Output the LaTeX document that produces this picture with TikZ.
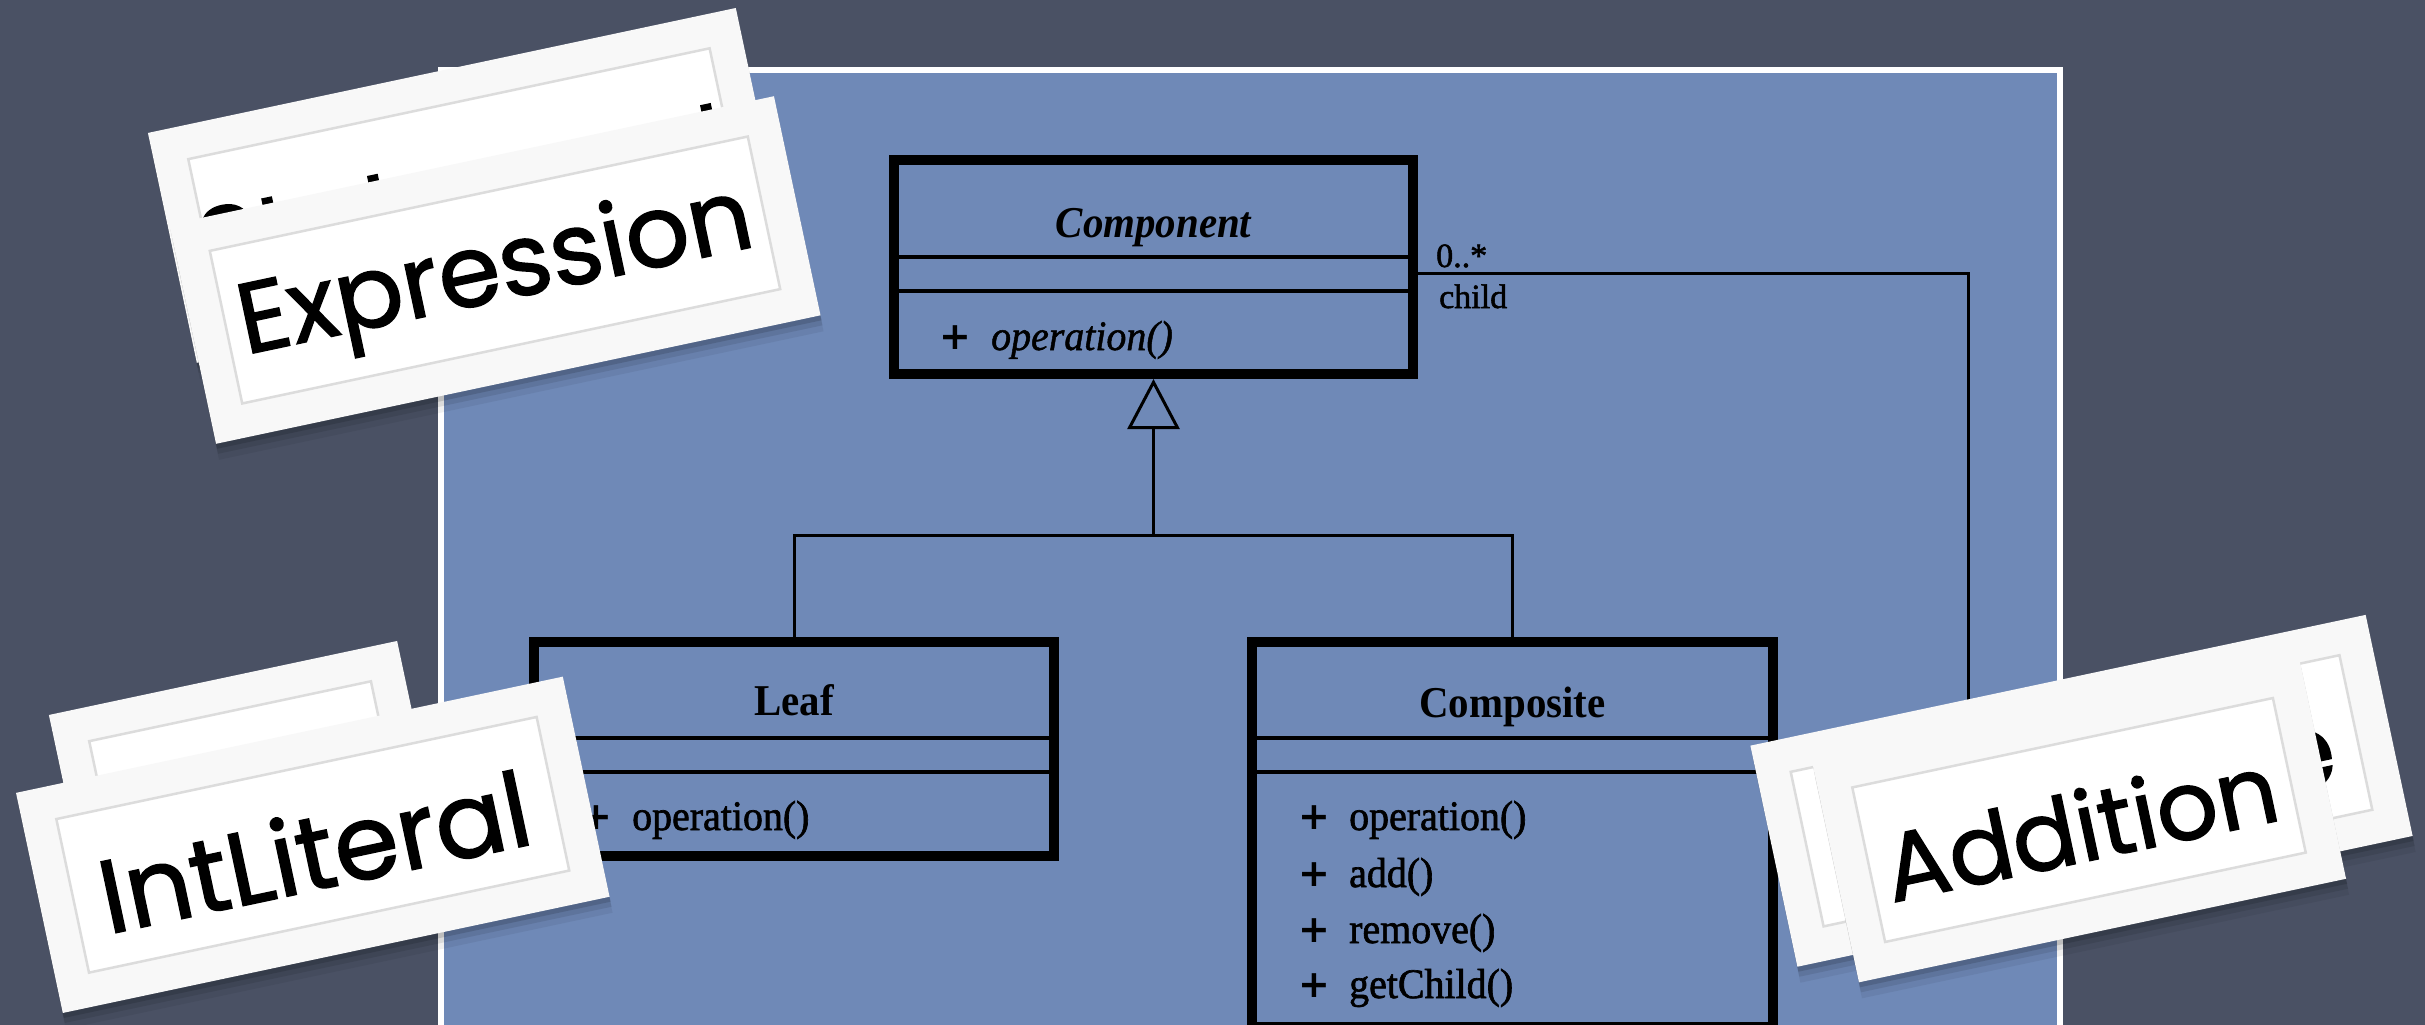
\documentclass[tikz,border=0pt]{standalone}
\usepackage{fontspec}
\setmainfont{Liberation Serif}
\newfontfamily\umltext[FakeBold=1.6]{Liberation Serif}
\newfontfamily\umlslant[FakeBold=1.2]{Liberation Serif}
\newfontfamily\plusfont{DejaVu Sans}
\newfontfamily\cardfont[FakeBold=1.4]{Poppins}
\usetikzlibrary{arrows.meta,calc,shadows}

\definecolor{board}{RGB}{74,81,100}
\definecolor{panelblue}{RGB}{111,137,183}
\definecolor{cardedge}{RGB}{248,248,248}
\definecolor{cardline}{RGB}{220,220,220}

\tikzset{
  classbox/.style={draw=black, line width=10pt, inner sep=0pt},
  sepline/.style={draw=black, line width=3.5pt},
  link/.style={draw=black, line width=3pt},
  classname/.style={font=\fontsize{44}{50}\selectfont\bfseries, xscale=0.93, inner sep=0pt, anchor=base},
  member/.style={font=\umltext\fontsize{42}{48}\selectfont, xscale=0.95, inner sep=0pt, anchor=base west},
  plussign/.style={font=\plusfont\bfseries\fontsize{38}{44}\selectfont, inner sep=0pt, anchor=base west},
  endlabel/.style={font=\umltext\fontsize{34}{40}\selectfont, inner sep=0pt, anchor=base west},
  cardback/.style={fill=cardedge, draw=none, rotate=12, inner sep=0pt,
    drop shadow={shadow xshift=3pt, shadow yshift=-16pt, opacity=0.06, fill=black},
    drop shadow={shadow xshift=2pt, shadow yshift=-10pt, opacity=0.09, fill=black},
    drop shadow={shadow xshift=1pt, shadow yshift=-5pt, opacity=0.13, fill=black}},
  cardface/.style={fill=white, draw=cardline, line width=2.5pt, rotate=12, inner sep=0pt},
  cardtext/.style={font=\cardfont\fontsize{104}{116}\selectfont, rotate=12, yshift=-6pt, inner sep=0pt},
}

\begin{document}
\begin{tikzpicture}[x=1pt, y=-1pt]
  % chalkboard and the blue sheet
  \useasboundingbox (0,0) rectangle (2425,1025);
  \fill[board] (0,0) rectangle (2425,1025);
  \draw[fill=panelblue, draw=white, line width=6pt] (441,70) rectangle (2060,1110);

  % class boxes
  \node[classbox, minimum width=519pt, minimum height=214pt] (comp) at (1153.5,267) {};
  \node[classbox, minimum width=520pt, minimum height=214pt] (leaf) at (794,749) {};
  \node[classbox, minimum width=521pt, minimum height=385pt] (compo) at (1512.5,834.5) {};

  % compartments
  \draw[sepline] (comp.west |- 0,257) -- (comp.east |- 0,257);
  \draw[sepline] (comp.west |- 0,291) -- (comp.east |- 0,291);
  \draw[sepline] (leaf.west |- 0,738) -- (leaf.east |- 0,738);
  \draw[sepline] (leaf.west |- 0,772) -- (leaf.east |- 0,772);
  \draw[sepline] (compo.west |- 0,738) -- (compo.east |- 0,738);
  \draw[sepline] (compo.west |- 0,772) -- (compo.east |- 0,772);

  % class names
  \node[classname, font=\fontsize{44}{50}\selectfont\bfseries\itshape] (compname) at (1153.5,237) {Component};
  \node[classname] (leafname) at (794,715) {Leaf};
  \node[classname] (componame) at (1512.5,717) {Composite};

  % operations
  \node[plussign] (cplus) at (939,349) {+};
  \node[member, font=\umlslant\fontsize{42}{48}\selectfont\itshape] (cop) at (991,350) {operation()};
  \node[plussign] (lplus) at (580,829) {+};
  \node[member] (lop) at (632,830) {operation()};
  \node[plussign] (kplus1) at (1298,829) {+};
  \node[member] (kop1) at (1349,830) {operation()};
  \node[plussign] (kplus2) at (1298,886) {+};
  \node[member] (kop2) at (1349,887) {add()};
  \node[plussign] (kplus3) at (1298,942) {+};
  \node[member] (kop3) at (1349,943) {remove()};
  \node[plussign] (kplus4) at (1298,997) {+};
  \node[member] (kop4) at (1349,998) {getChild()};

  % generalisation
  \coordinate (junction) at (1153.5,535);
  \draw[link] (leaf.north) |- (junction) -| (compo.north);
  \draw[link, -{Triangle[open, length=50pt, width=52pt, line width=3pt]}] (junction) -- (comp.south);

  % child association
  \coordinate (assocbend) at (1968,273);
  \coordinate (assocdown) at (1968,790);
  \draw[link] ($(comp.east)+(0,6)$) -- (assocbend) -- (assocdown) -- (compo.east |- assocdown);
  \node[endlabel] (mult) at (1436,267) {0..*};
  \node[endlabel] (role) at (1439,308) {child};

  % cards, top left
  \node[cardback, minimum width=601pt, minimum height=235pt] (stmtcard) at (466.3,185.4) {};
  \node[cardface, minimum width=533pt, minimum height=167pt] (stmtface) at (stmtcard.center) {};
  \node[cardtext] (stmttext) at (stmtcard.center) {Statement};
  \node[cardback, minimum width=618pt, minimum height=224pt] (exprcard) at (495,270) {};
  \node[cardface, minimum width=550pt, minimum height=156pt] (exprface) at (exprcard.center) {};
  \node[cardtext, font=\cardfont\fontsize{100}{112}\selectfont] (exprtext) at (exprcard.center) {Expression};

  % cards, bottom left
  \node[cardback, minimum width=356pt, minimum height=226pt] (backcard) at (246.5,788.5) {};
  \node[cardface, minimum width=288pt, minimum height=158pt] (backface) at (backcard.center) {};
  \node[cardback, minimum width=559pt, minimum height=225pt] (intcard) at (312.8,844.8) {};
  \node[cardface, minimum width=491pt, minimum height=157pt] (intface) at (intcard.center) {};
  \node[cardtext] (inttext) at (intcard.center) {IntLiteral};

  % cards, right
  \node[cardback, minimum width=629pt, minimum height=226pt] (ifcard) at (2081.5,790.8) {};
  \node[cardface, minimum width=561pt, minimum height=158pt] (ifface) at (ifcard.center) {};
  \node[cardtext] (iftext) at (ifcard.center) {IfThenElse};
  \node[cardback, minimum width=498pt, minimum height=226pt] (addcard) at (2079,820) {};
  \node[cardface, minimum width=430pt, minimum height=158pt] (addface) at (addcard.center) {};
  \node[cardtext, font=\cardfont\fontsize{96}{108}\selectfont] (addtext) at (addcard.center) {Addition};
\end{tikzpicture}
\end{document}
